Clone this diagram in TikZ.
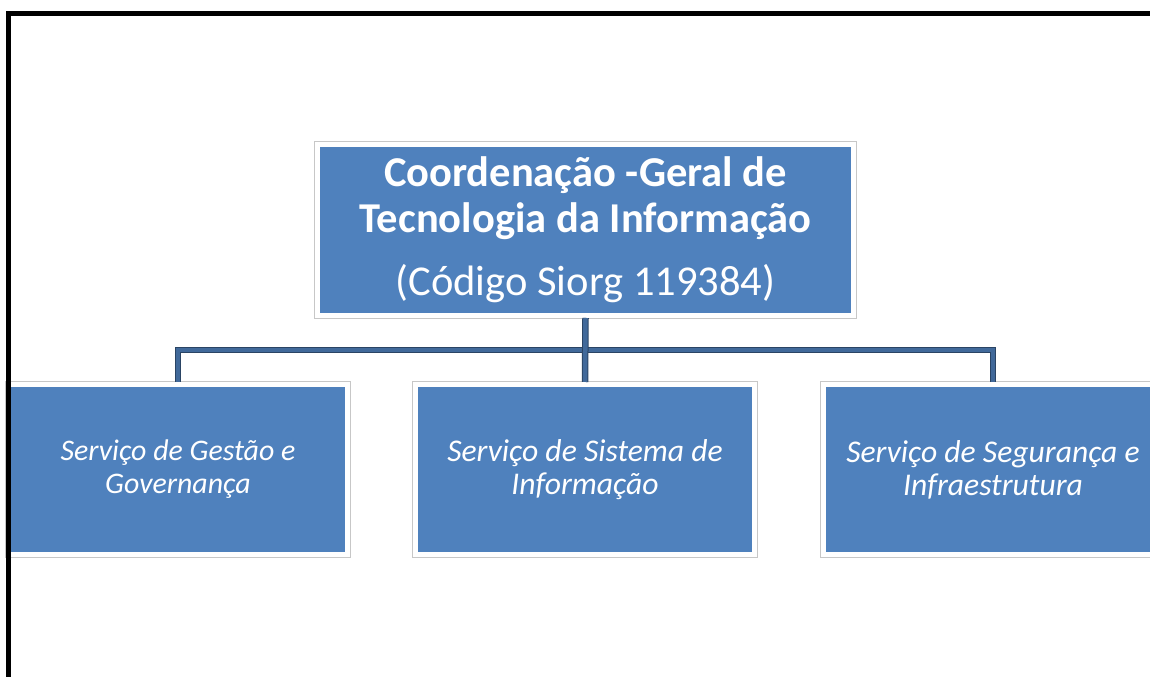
\documentclass[tikz,border=0pt]{standalone}
\usepackage{fontspec}
\setmainfont{Carlito}
\usepackage{tikz}

\definecolor{caixaazul}{HTML}{4F81BD}
\definecolor{eloazul}{HTML}{41699A}

\begin{document}
\begin{tikzpicture}[
    caixa/.style={fill=caixaazul, draw=white, line width=0.1cm, text=white, align=center,
                  inner sep=0pt, preaction={draw=black!22, line width=0.14cm}},
    chefe/.style={caixa, minimum width=10.72cm, minimum height=3.42cm,
                  font=\fontsize{24.2}{26}\selectfont},
    servico/.style={caixa, minimum width=6.78cm, minimum height=3.4cm,
                  font=\fontsize{18}{18.8}\selectfont\itshape},
    elo/.style={draw=eloazul, line width=0.09cm, preaction={draw=eloazul!65!black, line width=0.13cm}}
  ]
    \useasboundingbox (0,0) rectangle (23,13.54);
    \clip (0,0) rectangle (23,13.54);

    \node[chefe] (cgti) at (11.71,8.94)
      {\bfseries Coordenação -Geral de\\ \bfseries Tecnologia da Informação\\[0.36cm] (Código Siorg 119384)};
    \node[servico, font=\fontsize{17}{18.8}\selectfont\itshape] (gestao) at (3.56,4.15) {Serviço de Gestão e\\ Governança};
    \node[servico] (sistema) at (11.7,4.15) {Serviço de Sistema de\\ Informação};
    \node[servico] (infra) at (19.86,4.15) {Serviço de Segurança e\\ Infraestrutura};

    % ligações
    \coordinate (barra) at (11.7,6.54);
    \draw[elo] (gestao.north) |- (barra) -| (infra.north);
    \draw[elo] (cgti.south) -- (sistema.north);

    % moldura
    \draw[line width=0.1cm] (0.18,-1) |- (24,13.27);
  \end{tikzpicture}
\end{document}
